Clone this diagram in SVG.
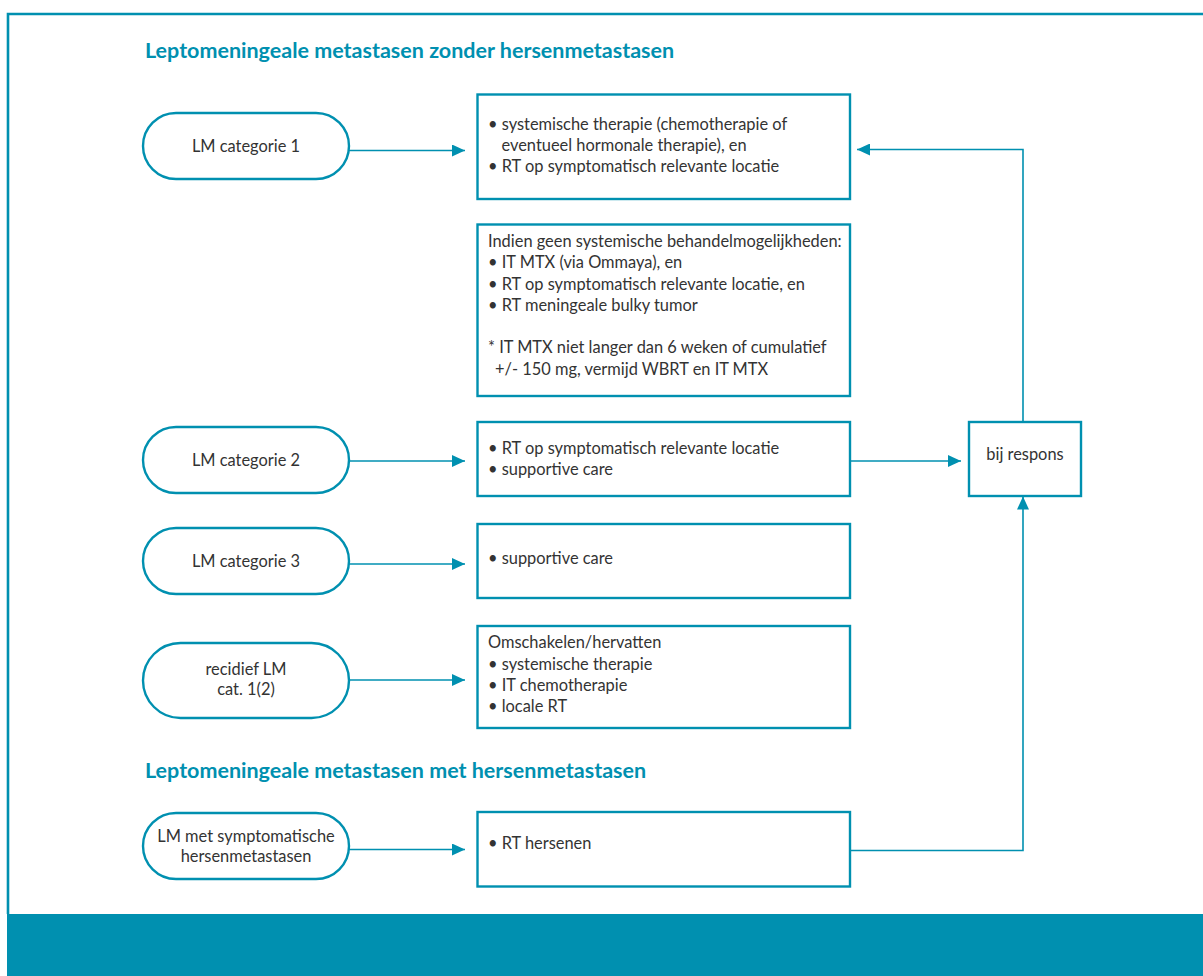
<svg xmlns="http://www.w3.org/2000/svg" width="1203" height="976" viewBox="0 0 1203 976">
<defs>
<style>
.frame{fill:none;stroke:#0090b0;stroke-width:2.6}
.band{fill:#0090b0}
.pill,.box{fill:#fff;stroke:#0090b0;stroke-width:2.4}
.conn{fill:none;stroke:#0090b0;stroke-width:1.6}
.t{font-family:Lato,"Liberation Sans",sans-serif;font-size:16.4px;fill:#333}
.c{text-anchor:middle}
.h{font-family:Lato,"Liberation Sans",sans-serif;font-size:21.5px;font-weight:bold;fill:#0090b0}
</style>
<marker id="ah" markerWidth="13" markerHeight="12" refX="13" refY="6" orient="auto" markerUnits="userSpaceOnUse">
<path d="M0,0 L13,6 L0,12 Z" fill="#0090b0"/>
</marker>
</defs>
<rect width="1203" height="976" fill="#fff"/>
<path class="frame" d="M1203,14 H8 V914"/>
<rect class="band" x="7" y="914" width="1196" height="62"/>
<text class="h" x="145" y="58">Leptomeningeale metastasen zonder hersenmetastasen</text>
<text class="h" x="145" y="778">Leptomeningeale metastasen met hersenmetastasen</text>
<g id="connectors">
<path class="conn" d="M349,150.5 H465" marker-end="url(#ah)"/>
<path class="conn" d="M349,461 H465" marker-end="url(#ah)"/>
<path class="conn" d="M349,564 H465" marker-end="url(#ah)"/>
<path class="conn" d="M349,680 H465" marker-end="url(#ah)"/>
<path class="conn" d="M349,849.5 H465" marker-end="url(#ah)"/>
<path class="conn" d="M850,461 H961" marker-end="url(#ah)"/>
<path class="conn" d="M1023,422 V149.5 H857" marker-end="url(#ah)"/>
<path class="conn" d="M850,850.5 H1023 V496.5" marker-end="url(#ah)"/>
</g>
<g id="pill1"><rect class="pill" x="143" y="113" width="206" height="66" rx="33"/><text class="t c" x="246" y="152">LM categorie 1</text></g>
<g id="pill2"><rect class="pill" x="143" y="427" width="206" height="66" rx="33"/><text class="t c" x="246" y="466">LM categorie 2</text></g>
<g id="pill3"><rect class="pill" x="143" y="528" width="206" height="66" rx="33"/><text class="t c" x="246" y="567">LM categorie 3</text></g>
<g id="pill4"><rect class="pill" x="143" y="643" width="206" height="75" rx="37.5"/><text class="t c" x="246" y="675">recidief LM</text><text class="t c" x="246" y="695">cat. 1(2)</text></g>
<g id="pill5"><rect class="pill" x="143" y="813" width="206" height="66" rx="33"/><text class="t c" x="246" y="842">LM met symptomatische</text><text class="t c" x="246" y="862">hersenmetastasen</text></g>
<g id="box1"><rect class="box" x="477.5" y="94.5" width="372.5" height="104.5"/>
<text class="t" x="488" y="130">• systemische therapie (chemotherapie of</text>
<text class="t" x="501.5" y="151">eventueel hormonale therapie), en</text>
<text class="t" x="488" y="172">• RT op symptomatisch relevante locatie</text></g>
<g id="box2"><rect class="box" x="477.5" y="224.5" width="372.5" height="171.5"/>
<text class="t" x="488" y="247">Indien geen systemische behandelmogelijkheden:</text>
<text class="t" x="488" y="268">• IT MTX (via Ommaya), en</text>
<text class="t" x="488" y="289.5">• RT op symptomatisch relevante locatie, en</text>
<text class="t" x="488" y="311">• RT meningeale bulky tumor</text>
<text class="t" x="488" y="353">* IT MTX niet langer dan 6 weken of cumulatief</text>
<text class="t" x="495" y="374.5">+/- 150 mg, vermijd WBRT en IT MTX</text></g>
<g id="box3"><rect class="box" x="477.5" y="422" width="372.5" height="74"/>
<text class="t" x="488" y="453.5">• RT op symptomatisch relevante locatie</text>
<text class="t" x="488" y="475">• supportive care</text></g>
<g id="box4"><rect class="box" x="477.5" y="524" width="372.5" height="74"/>
<text class="t" x="488" y="563.5">• supportive care</text></g>
<g id="box5"><rect class="box" x="477.5" y="626" width="372.5" height="102"/>
<text class="t" x="488" y="648">Omschakelen/hervatten</text>
<text class="t" x="488" y="669.5">• systemische therapie</text>
<text class="t" x="488" y="690.5">• IT chemotherapie</text>
<text class="t" x="488" y="712">• locale RT</text></g>
<g id="box6"><rect class="box" x="477.5" y="812" width="372.5" height="74.5"/>
<text class="t" x="488" y="849">• RT hersenen</text></g>
<g id="respons"><rect class="box" x="969" y="422" width="112" height="74"/>
<text class="t c" x="1025" y="460">bij respons</text></g>
</svg>
